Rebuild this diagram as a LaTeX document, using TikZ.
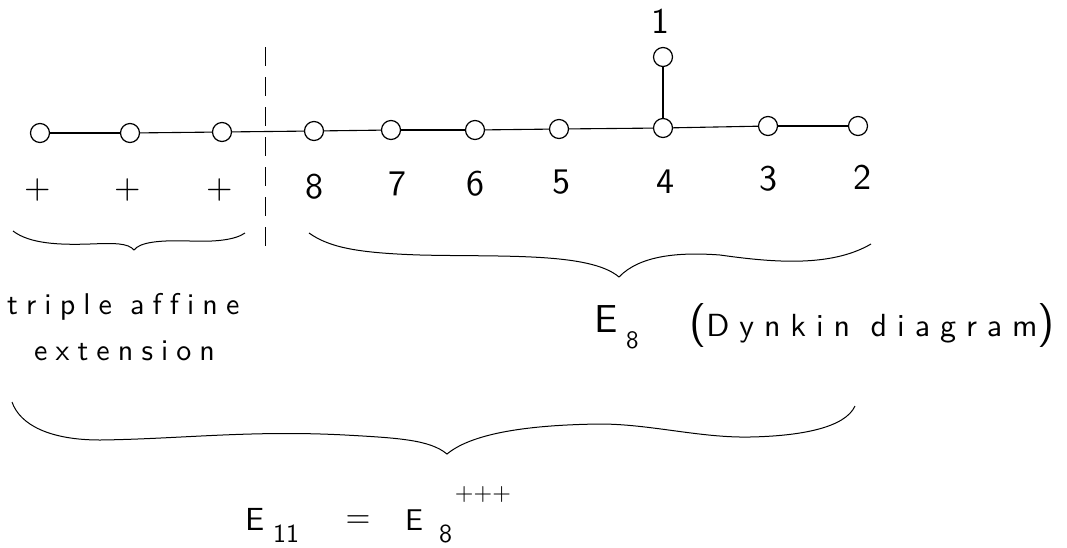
\documentclass[tikz,border=0pt]{standalone}
\usepackage{fontspec}
\newfontfamily\handfont{lmsans10-regular.otf}
\newfontfamily\spacedfont{lmsans10-regular.otf}[Ligatures=NoCommon,LetterSpace=27]
\newfontfamily\dynfont{lmsans10-regular.otf}[Ligatures=NoCommon,LetterSpace=31]
\begin{document}
\begin{tikzpicture}[x=1pt,y=-1pt,
  dnode/.style={circle,draw,line width=1.2pt,minimum size=19pt,inner sep=0pt},
  edge/.style={line width=1.1pt},
  lab/.style={font=\handfont\fontsize{36}{36}\selectfont,inner sep=0pt,anchor=base},
  plus/.style={font=\handfont\fontsize{34}{34}\selectfont,inner sep=0pt},
  hand/.style={font=\spacedfont\fontsize{30}{30}\selectfont,inner sep=0pt,anchor=base west},
  bigtxt/.style={inner sep=0pt,anchor=base west},
  bracestyle/.style={line width=1pt},
  sep/.style={line width=1pt,dash pattern=on 19pt off 11pt}
]
\useasboundingbox (0,0) rectangle (1067,547);

% nodes of the diagram
\node[dnode] (n1) at (40,133) {};
\node[dnode] (n2) at (130,133) {};
\node[dnode] (n3) at (222,132) {};
\node[dnode] (n4) at (314,131) {};
\node[dnode] (n5) at (391,130) {};
\node[dnode] (n6) at (475,130) {};
\node[dnode] (n7) at (559,129) {};
\node[dnode] (n8) at (663,128) {};
\node[dnode] (n9) at (768,126) {};
\node[dnode] (n10) at (858,126) {};
\node[dnode] (t1) at (663,57) {};

\draw[edge] (n1) -- (n2);
\draw[edge] (n2) -- (n3);
\draw[edge] (n3) -- (n4);
\draw[edge] (n4) -- (n5);
\draw[edge] (n5) -- (n6);
\draw[edge] (n6) -- (n7);
\draw[edge] (n7) -- (n8);
\draw[edge] (n8) -- (n9);
\draw[edge] (n9) -- (n10);
\draw[edge] (n8) -- (t1);

% separator
\draw[sep] (265,47) -- (265,247);

% labels
\node[lab] (l1) at (660,33) {1};
\node[plus] (p1) at (38,190) {+};
\node[plus] (p2) at (128,190) {+};
\node[plus] (p3) at (220,190) {+};
\node[lab] (l8) at (314,198) {8};
\node[lab] (l7) at (397,195) {7};
\node[lab] (l6) at (475,195) {6};
\node[lab] (l5) at (561,193) {5};
\node[lab] (l4) at (665,193) {4};
\node[lab] (l3) at (768,190) {3};
\node[lab] (l2) at (862,189) {2};

% braces
\draw[bracestyle] (13,231) .. controls (30,244) and (60,245) .. (90,244)
  .. controls (115,243) and (128,243) .. (134,250)
  .. controls (140,242) and (160,240) .. (190,241)
  .. controls (215,242) and (235,240) .. (245,233);
\draw[bracestyle] (309,233) .. controls (330,248) and (360,253) .. (420,255)
  .. controls (500,257) and (590,252) .. (619,277)
  .. controls (640,255) and (680,252) .. (720,255)
  .. controls (770,262) and (830,268) .. (871,244);
\draw[bracestyle] (12,402) .. controls (20,425) and (50,440) .. (100,440)
  .. controls (180,439) and (250,430) .. (345,435)
  .. controls (400,438) and (430,440) .. (447,454)
  .. controls (470,435) and (520,425) .. (600,424)
  .. controls (650,424) and (700,438) .. (750,437)
  .. controls (800,436) and (845,428) .. (855,406);

% texts
\node[hand] (tt1) at (7,314) {triple affine};
\node[hand] (tt2) at (34,360) {extension};
\node[bigtxt,font=\handfont\fontsize{39}{39}\selectfont] (e8) at (594,332) {E};
\node[bigtxt,font=\handfont\fontsize{25}{25}\selectfont] (e8s) at (626,348) {8};
\node[bigtxt,font=\dynfont\fontsize{32}{32}\selectfont] (dyn) at (689,336)
  {{\fontsize{44}{44}\selectfont(}Dynkin diagram{\fontsize{44}{44}\selectfont)}};

\node[bigtxt,font=\handfont\fontsize{32}{32}\selectfont] (e11) at (245,530) {E};
\node[bigtxt,font=\handfont\fontsize{26}{26}\selectfont] (e11s) at (273,542) {11};
\node[font=\handfont\fontsize{32}{32}\selectfont,inner sep=0pt] (eq) at (358,522) {=};
\node[bigtxt,font=\handfont\fontsize{30}{30}\selectfont] (e8b) at (405,530) {E};
\node[bigtxt,font=\handfont\fontsize{26}{26}\selectfont] (e8bs) at (439,542) {8};
\node[font=\handfont\fontsize{24}{24}\selectfont,inner sep=0pt] (ppp) at (483,494) {+++};
\end{tikzpicture}
\end{document}
